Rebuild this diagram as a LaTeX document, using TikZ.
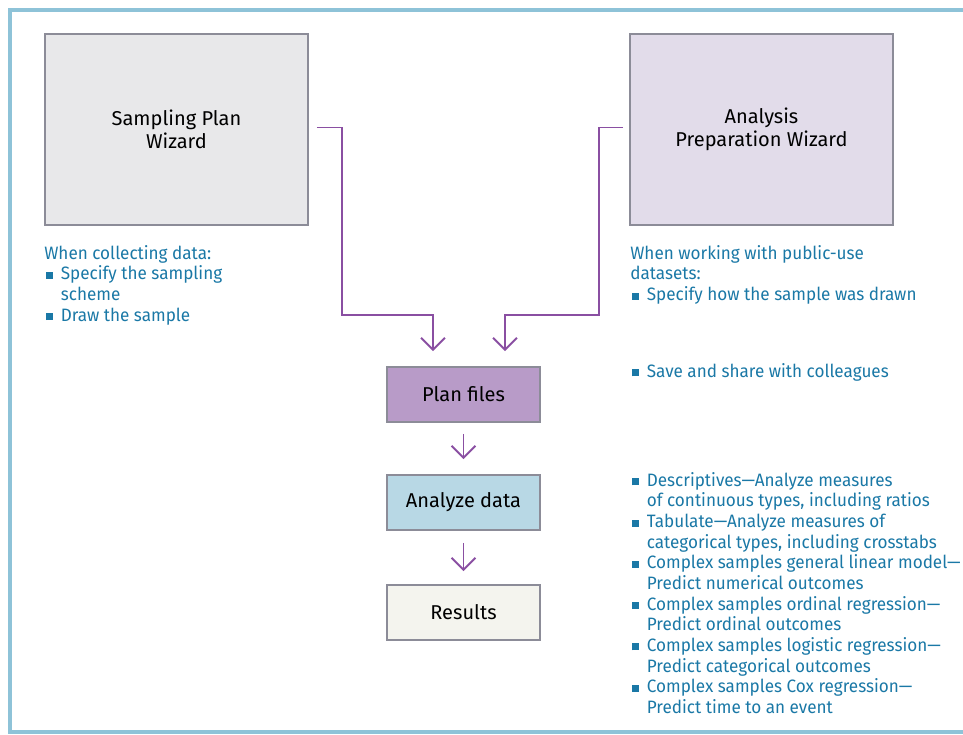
\documentclass[tikz,border=0pt]{standalone}
\usepackage{fontspec}
\setmainfont{Fira Sans}
\newfontfamily\notefont[FakeStretch=0.955]{Fira Sans}
\usetikzlibrary{positioning,arrows.meta,calc}
\definecolor{frameblue}{HTML}{8EC3D8}
\definecolor{flowpurple}{HTML}{8A4FA2}
\definecolor{boxline}{HTML}{8C8C98}
\definecolor{txtblue}{HTML}{1A78A6}
\definecolor{smpfill}{HTML}{E8E8EA}
\definecolor{anafill}{HTML}{E2DCEA}
\definecolor{planfill}{HTML}{B89BC8}
\definecolor{datafill}{HTML}{B8D8E5}
\definecolor{resfill}{HTML}{F4F4EE}
\newcommand{\bsq}{\makebox[9.4pt][l]{\hspace*{1pt}\textcolor{txtblue}{\rule[0.6pt]{4pt}{4pt}}}}
\newcommand{\bind}{\hspace*{9.4pt}}

\begin{document}
\begin{tikzpicture}[x=0.02cm,y=-0.02cm,
  wizard/.style={draw=boxline,line width=1pt,minimum width=5.26cm,minimum height=3.82cm,
    align=center,font=\fontsize{11.4}{13}\selectfont},
  stage/.style={draw=boxline,line width=1pt,minimum width=3.06cm,minimum height=1.1cm,
    font=\fontsize{11.4}{13}\selectfont},
  note/.style={anchor=north west,inner sep=0pt,align=left,text=txtblue,
    font=\notefont\fontsize{10.2}{11.75}\selectfont},
  flow/.style={draw=flowpurple,line width=1.1pt,-{Straight Barb[length=6.8pt,width=13.6pt]}}]
  \useasboundingbox (0,0) rectangle (963,734);
  \draw[frameblue,line width=2pt] (963,10) -- (10,10) -- (10,732) -- (963,732);

  \node[wizard,fill=smpfill] (smp) at (176.5,129.5) {Sampling Plan\\Wizard};
  \node[wizard,fill=anafill] (ana) at (761.5,129.5) {Analysis\\Preparation Wizard};
  \node[stage,fill=planfill] (plan) at (463.5,394.5) {Plan files};
  \node[stage,fill=datafill] (data) at (463.5,502.5) {Analyze data};
  \node[stage,fill=resfill] (res) at (463.5,612.5) {Results};

  \coordinate (s0) at ($(smp.east)+(8,-2)$);
  \coordinate (a0) at ($(ana.west)+(-6,-2)$);
  \coordinate (p1) at ($(plan.north)+(-30.5,-15)$);
  \coordinate (p2) at ($(plan.north)+(41.5,-15)$);
  \draw[flow] (s0) -| (342,315) -| (p1);
  \draw[flow] (a0) -| (599,315) -| (p2);
  \draw[flow] ($(plan.south)+(0,11)$) -- ($(data.north)+(0,-15)$);
  \draw[flow] ($(data.south)+(0,12)$) -- ($(res.north)+(0,-13)$);

  \node[note] (collect) at (44,245) {When collecting data:\\
    \bsq Specify the sampling\\ \bind scheme\\
    \bsq Draw the sample};
  \node[note] (public) at (630,245) {When working with public-use\\
    datasets:\\
    \bsq Specify how the sample was drawn};
  \node[note] (share) at (630,363) {\bsq Save and share with colleagues};
  \node[note] (procs) at (630,472) {\bsq Descriptives—Analyze measures\\
    \bind of continuous types, including ratios\\
    \bsq Tabulate—Analyze measures of\\
    \bind categorical types, including crosstabs\\
    \bsq Complex samples general linear model—\\
    \bind Predict numerical outcomes\\
    \bsq Complex samples ordinal regression—\\
    \bind Predict ordinal outcomes\\
    \bsq Complex samples logistic regression—\\
    \bind Predict categorical outcomes\\
    \bsq Complex samples Cox regression—\\
    \bind Predict time to an event};
\end{tikzpicture}
\end{document}
